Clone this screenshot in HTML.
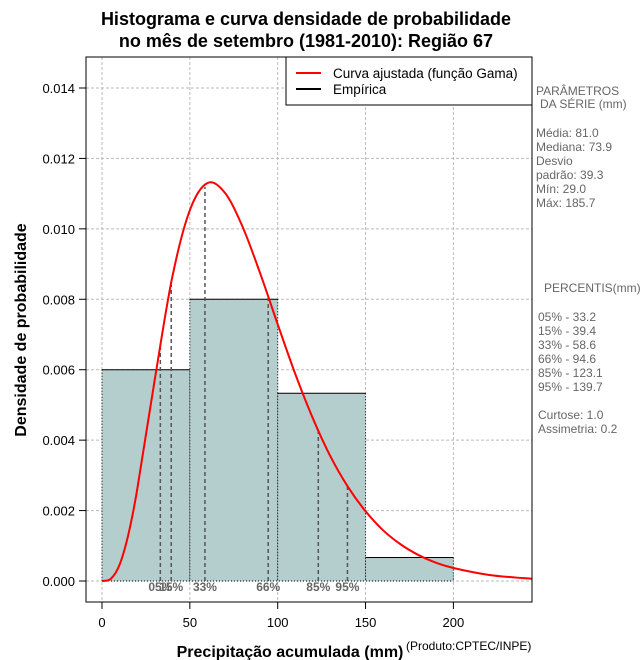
<!DOCTYPE html>
<html><head><meta charset="utf-8"><style>
body{margin:0;background:#fff}
svg{display:block;font-family:"Liberation Sans",sans-serif}
</style></head><body>
<svg id="c" width="640" height="660">
<text x="306" y="25" text-anchor="middle" font-size="18" font-weight="bold">Histograma e curva densidade de probabilidade</text>
<text x="306" y="47" text-anchor="middle" font-size="18" font-weight="bold">no mês de setembro (1981-2010): Região 67</text>
<g id="grid"></g>
<g id="bars"></g>
<g id="pct"></g>
<path id="curve" fill="none" stroke="#ff0000" stroke-width="2"/>
<rect x="86" y="57" width="446" height="545" fill="none" stroke="#000"/>
<g id="axes"></g>
<text x="290" y="657" text-anchor="middle" font-size="16" font-weight="bold">Precipitação acumulada (mm)</text>
<text x="406" y="650" font-size="12">(Produto:CPTEC/INPE)</text>
<text transform="translate(26,330) rotate(-90)" text-anchor="middle" font-size="16" font-weight="bold">Densidade de probabilidade</text>
<g>
<rect x="286" y="57" width="246" height="48" fill="#fff" stroke="#000"/>
<line x1="296" y1="73" x2="321" y2="73" stroke="#ff0000" stroke-width="2"/>
<text x="333" y="78" font-size="13.5">Curva ajustada (função Gama)</text>
<line x1="296" y1="89" x2="321" y2="89" stroke="#000" stroke-width="2"/>
<text x="333" y="94" font-size="13.5">Empírica</text>
</g>
<g font-size="12" fill="#666" xml:space="preserve" style="white-space:pre">
<text x="536" y="95">PARÂMETROS</text><text x="540" y="108">DA SÉRIE (mm)</text>
<text x="536" y="137">Média:  81.0</text><text x="536" y="151">Mediana:  73.9</text>
<text x="536" y="165">Desvio</text><text x="536" y="179">padrão:  39.3</text>
<text x="536" y="193">Mín:  29.0</text><text x="536" y="207">Máx:  185.7</text>
<text x="544" y="292">PERCENTIS(mm)</text>
<text x="538" y="321">05% -  33.2</text><text x="538" y="335">15% -  39.4</text>
<text x="538" y="349">33% -  58.6</text><text x="538" y="363">66% -  94.6</text>
<text x="538" y="377">85% -  123.1</text><text x="538" y="391">95% -  139.7</text>
<text x="538" y="419">Curtose:  1.0</text><text x="538" y="433">Assimetria:  0.2</text>
</g>
</svg>
<script>
const binStarts=[0,50,100,150];
const binWidth=50;
const binDensity=[0.006,0.008,0.005333,0.000667];
const curveX=[0,5,10,15,20,30,40,50,60,70,80,90,100,110,120,130,140,150,160,170,180,190,200,220,240,250];
const curveY=[0,0.00006,0.00046,0.00132,0.00259,0.00571,0.00863,0.01053,0.0113,0.01102,0.01006,0.00874,0.00729,0.00588,0.00462,0.00354,0.00267,0.00198,0.00144,0.00104,0.00074,0.00052,0.00037,0.000175,0.00008,0.00005];
const pctLabels=["05%","15%","33%","66%","85%","95%"];
const pctValues=[33.2,39.4,58.6,94.6,123.1,139.7];
const xTicks=[0,50,100,150,200];
const yTicks=[0,0.002,0.004,0.006,0.008,0.010,0.012,0.014];
const NS="http://www.w3.org/2000/svg";
const xs=v=>102+v*1.757;
const ys=v=>581-v*35215;
function mk(tag,attrs,parent){const e=document.createElementNS(NS,tag);for(const k in attrs)e.setAttribute(k,attrs[k]);document.getElementById(parent).appendChild(e);return e;}
function interp(x){for(let i=1;i<curveX.length;i++){if(x<=curveX[i]){const t=(x-curveX[i-1])/(curveX[i]-curveX[i-1]);return curveY[i-1]+t*(curveY[i]-curveY[i-1]);}}return 0;}
xTicks.forEach(t=>{const l=mk('line',{x1:xs(t),x2:xs(t),y1:57,y2:602,stroke:'#bbb','stroke-dasharray':'3,2'},'grid');

});
yTicks.forEach(t=>{const l=mk('line',{x1:86,x2:532,y1:ys(t),y2:ys(t),stroke:'#bbb','stroke-dasharray':'3,2'},'grid');

});
binStarts.forEach((s,i)=>{const x0=xs(s),x1=xs(s+binWidth),y=ys(binDensity[i]);
const r=mk('rect',{x:x0,y:y,width:x1-x0,height:ys(0)-y,fill:'#b4cdcd'},'bars');


mk('line',{x1:x0,x2:x1,y1:y,y2:y,stroke:'#000','stroke-width':1},'bars');
mk('line',{x1:x0,x2:x0,y1:y,y2:ys(0),stroke:'#000','stroke-dasharray':'1,2'},'bars');
mk('line',{x1:x1,x2:x1,y1:y,y2:ys(0),stroke:'#000','stroke-dasharray':'1,2'},'bars');});
mk('line',{x1:xs(0),x2:xs(200),y1:ys(0),y2:ys(0),stroke:'#000','stroke-dasharray':'1,2'},'bars');
pctValues.forEach((v,i)=>{const l=mk('line',{x1:xs(v),x2:xs(v),y1:ys(0),y2:ys(interp(v)),stroke:'#555','stroke-width':1.5,'stroke-dasharray':'4,3'},'pct');


const t=mk('text',{x:xs(v),y:591,'text-anchor':'middle','font-size':12,'font-weight':'bold',fill:'#666'},'pct');t.textContent=pctLabels[i];

});
const P=curveX.map((x,i)=>[xs(x),ys(curveY[i])]);
let d='M'+P[0][0]+','+P[0][1];
for(let i=0;i<P.length-1;i++){const p0=P[Math.max(0,i-1)],p1=P[i],p2=P[i+1],p3=P[Math.min(P.length-1,i+2)];
d+=' C'+(p1[0]+(p2[0]-p0[0])/6)+','+(p1[1]+(p2[1]-p0[1])/6)+' '+(p2[0]-(p3[0]-p1[0])/6)+','+(p2[1]-(p3[1]-p1[1])/6)+' '+p2[0]+','+p2[1];}
document.getElementById('curve').setAttribute('d',d);
mk('clipPath',{id:'cp'},'axes');
mk('rect',{x:86,y:57,width:446,height:545},'cp');
document.getElementById('curve').setAttribute('clip-path','url(#cp)');
xTicks.forEach(t=>{mk('line',{x1:xs(t),x2:xs(t),y1:602,y2:609,stroke:'#000'},'axes');
const e=mk('text',{x:xs(t),y:627,'text-anchor':'middle','font-size':13},'axes');e.textContent=t;

});
yTicks.forEach(t=>{mk('line',{x1:79,x2:86,y1:ys(t),y2:ys(t),stroke:'#000'},'axes');
const e=mk('text',{x:75,y:ys(t)+5,'text-anchor':'end','font-size':13},'axes');e.textContent=t.toFixed(3);

});
</script>
</body></html>
